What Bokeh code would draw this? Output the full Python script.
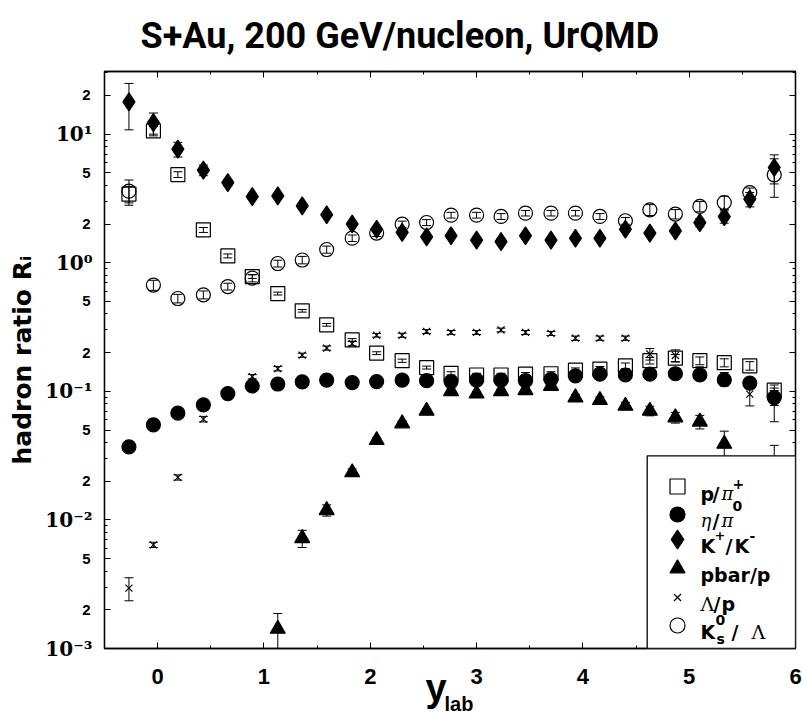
import math
from bokeh.plotting import figure
from bokeh.models import (Range1d, LogAxis, LinearAxis, FixedTicker, Title,
                          Whisker, TeeHead, ColumnDataSource, Label, BoxAnnotation)
from bokeh.embed import file_html
from bokeh.resources import INLINE

NaN = float("nan")

# ---------------- data ----------------
y_lab = [-0.27, -0.04, 0.19, 0.43, 0.66, 0.89, 1.13, 1.36, 1.59, 1.83, 2.06, 2.30, 2.53,
         2.76, 3.00, 3.23, 3.46, 3.70, 3.93, 4.16, 4.40, 4.63, 4.87, 5.10, 5.33, 5.57, 5.80]

p_pip = [3.42, 10.6, 4.85, 1.80, 1.13, 0.78, 0.576, 0.423, 0.329, 0.251, 0.198, 0.173, 0.153,
         0.138, 0.134, 0.134, 0.136, 0.137, 0.146, 0.149, 0.158, 0.173, 0.181, 0.173, 0.167, 0.158, 0.102]
p_pip_err = [0.5, 0.9, 0.25, 0.08, 0.04, 0.025, 0.015, 0.01, 0.008, 0.006, 0.005, 0.005, 0.004,
             0.004, 0.004, 0.004, 0.004, 0.005, 0.006, 0.007, 0.008, 0.01, 0.012, 0.012, 0.012, 0.012, 0.01]

eta_pi0 = [0.037, 0.0549, 0.0677, 0.0785, 0.096, 0.110, 0.114, 0.1185, 0.122, 0.117, 0.119, 0.122, 0.121,
           0.119, 0.122, 0.122, 0.121, 0.124, 0.132, 0.136, 0.134, 0.136, 0.137, 0.134, 0.123, 0.116, 0.0895]
eta_pi0_err = [0.002, 0.002, 0.002, 0.002, 0.003, 0.003, 0.003, 0.003, 0.003, 0.003, 0.003, 0.003, 0.003,
               0.003, 0.003, 0.003, 0.003, 0.003, 0.004, 0.004, 0.004, 0.004, 0.004, 0.004, 0.01, 0.007, 0.012]

kp_km = [17.8, 12.3, 7.64, 5.25, 4.20, 3.27, 3.31, 2.77, 2.36, 2.0, 1.82, 1.72, 1.59,
         1.62, 1.50, 1.46, 1.62, 1.50, 1.55, 1.55, 1.82, 1.70, 1.77, 2.05, 2.28, 3.12, 5.5]
kp_km_err = [7.0, 2.3, 1.0, 0.5, 0.25, 0.15, 0.15, 0.12, 0.1, 0.08, 0.08, 0.07, 0.07,
             0.07, 0.07, 0.07, 0.07, 0.07, 0.07, 0.07, 0.08, 0.08, 0.1, 0.15, 0.25, 0.4, 1.4]

pbar_p = [NaN, NaN, NaN, NaN, NaN, NaN, 0.00142, 0.0072, 0.0119, 0.0234, 0.0417, 0.0562, 0.0705,
          0.100, 0.096, 0.100, 0.102, 0.110, 0.0895, 0.0854, 0.077, 0.0705, 0.0626, 0.058, 0.039, NaN, 0.025]
pbar_p_err = [NaN, NaN, NaN, NaN, NaN, NaN, 0.00045, 0.0011, 0.0012, 0.0015, 0.002, 0.0025, 0.003,
              0.004, 0.004, 0.004, 0.004, 0.005, 0.005, 0.005, 0.005, 0.006, 0.006, 0.007, 0.01, NaN, 0.013]

lambda_p = [0.00295, 0.0064, 0.0214, 0.0608, 0.092, 0.130, 0.150, 0.191, 0.217, 0.235, 0.273, 0.273, 0.292,
            0.287, 0.287, 0.300, 0.287, 0.282, 0.259, 0.259, 0.259, 0.195, 0.190, 0.140, 0.125, 0.095, 0.082]
lambda_p_err = [0.0006, 0.0003, 0.001, 0.003, 0.004, 0.005, 0.006, 0.007, 0.008, 0.009, 0.009, 0.01, 0.01,
                0.01, 0.01, 0.01, 0.01, 0.01, 0.01, 0.01, 0.01, 0.02, 0.02, 0.015, 0.015, 0.018, 0.024]

k0s_lambda = [3.6, 0.67, 0.527, 0.563, 0.653, 0.759, 0.986, 1.05, 1.267, 1.553, 1.70, 1.995, 2.055,
              2.345, 2.345, 2.29, 2.43, 2.43, 2.43, 2.29, 2.12, 2.58, 2.39, 2.74, 2.94, 3.51, 4.83]
k0s_lambda_err = [0.8, 0.06, 0.04, 0.04, 0.04, 0.05, 0.06, 0.07, 0.08, 0.09, 0.1, 0.11, 0.11,
                  0.12, 0.12, 0.12, 0.12, 0.12, 0.12, 0.12, 0.13, 0.25, 0.2, 0.25, 0.35, 0.3, 1.6]

x_ticks = [0, 1, 2, 3, 4, 5, 6]
x_minor_ticks = [-0.5, 0.5, 1.5, 2.5, 3.5, 4.5, 5.5]
y_major_ticks = [0.001, 0.002, 0.005, 0.01, 0.02, 0.05, 0.1, 0.2, 0.5, 1, 2, 5, 10, 20]
y_minor_ticks = [0.003, 0.004, 0.006, 0.007, 0.008, 0.009, 0.03, 0.04, 0.06, 0.07, 0.08, 0.09,
                 0.3, 0.4, 0.6, 0.7, 0.8, 0.9, 3, 4, 6, 7, 8, 9, 30]
y_small_label_vals = [20, 5, 2, 0.5, 0.2, 0.05, 0.02, 0.005, 0.002]
y_small_label_text = ["2", "5", "2", "5", "2", "5", "2", "5", "2"]
y_decade_vals = [10, 1, 0.1, 0.01, 0.001]
y_decade_text = ["10¹", "10⁰", "10⁻¹", "10⁻²", "10⁻³"]

TITLE = "S+Au, 200 GeV/nucleon, UrQMD"
Y_TITLE = "hadron ratio Rᵢ"
X_TITLE_MAIN = "y"
X_TITLE_SUB = "lab"

# ---------------- layout ----------------
X0, X1 = -0.5, 6.0
Y0, Y1 = 1e-3, 30.7
FL, FR, FT, FB = 104, 795, 71, 648          # frame edges in page pixels
W, H = 804, 717

SANS = "Liberation Sans"
BSANS = "DejaVu Sans"
SERIF = "DejaVu Serif"


def px_x(px):
    return X0 + (px - FL) / (FR - FL) * (X1 - X0)


def px_y(py):
    l0, l1 = math.log10(Y0), math.log10(Y1)
    return 10 ** (l0 + (FB - py) / (FB - FT) * (l1 - l0))


p = figure(frame_width=FR - FL, frame_height=FB - FT,
           min_border_left=FL, min_border_right=W - FR, min_border_top=FT, min_border_bottom=H - FB,
           x_range=Range1d(X0, X1), y_range=Range1d(Y0, Y1), y_axis_type="log",
           output_backend="svg", toolbar_location=None)
p.xgrid.visible = False
p.ygrid.visible = False
p.outline_line_color = "black"
p.outline_line_width = 1.3
p.background_fill_color = "white"
p.border_fill_color = "white"

xt = FixedTicker(ticks=x_ticks, minor_ticks=x_minor_ticks)
yt = FixedTicker(ticks=y_major_ticks, minor_ticks=y_minor_ticks)
p.add_layout(LogAxis(ticker=yt), "right")
p.add_layout(LinearAxis(ticker=xt), "above")
p.xaxis.ticker = xt
p.yaxis.ticker = yt

for ax in p.axis:
    ax.axis_line_color = "black"
    ax.axis_line_width = 1.3
    ax.major_tick_in = 6
    ax.major_tick_out = 0
    ax.minor_tick_in = 3
    ax.minor_tick_out = 0
    ax.major_tick_line_color = "black"
    ax.minor_tick_line_color = "black"
    ax.major_label_text_font_size = "0px"
    ax.major_label_standoff = 0

# bottom axis labels
bx = p.below[0]
bx.major_label_text_font_size = "22px"
bx.major_label_text_font = SANS
bx.major_label_text_font_style = "bold"
bx.major_label_text_color = "black"
bx.major_label_standoff = 20

# inner left axis: small "2" / "5" labels
ly = p.left[0]
ov = {v: "" for v in y_major_ticks}
for v, s in zip(y_small_label_vals, y_small_label_text):
    ov[v] = s
ly.major_label_overrides = ov
ly.major_label_text_font = SANS
ly.major_label_text_font_style = "bold"
ly.major_label_text_font_size = "15px"
ly.major_label_text_color = "black"
ly.major_label_standoff = 14

# outer left axis: decade labels + axis title
dec = LogAxis(ticker=FixedTicker(ticks=y_decade_vals, minor_ticks=[]),
              major_label_overrides=dict(zip(y_decade_vals, y_decade_text)),
              axis_line_color=None, major_tick_line_color=None, minor_tick_line_color=None,
              major_tick_in=0, major_tick_out=0, minor_tick_in=0, minor_tick_out=0,
              major_label_standoff=-13, major_label_text_font=SERIF,
              major_label_text_font_style="bold", major_label_text_font_size="20px",
              major_label_text_color="black",
              axis_label=Y_TITLE, axis_label_text_font=BSANS, axis_label_text_font_style="bold",
              axis_label_text_font_size="25px", axis_label_text_color="black",
              axis_label_standoff=5)
p.add_layout(dec, "left")

# titles
p.add_layout(Title(text=TITLE, align="left", offset=36, standoff=26, vertical_align="top",
                   text_font="Roboto", text_font_size="36px", text_font_style="bold",
                   text_color="black"), "above")
p.add_layout(Title(text=X_TITLE_MAIN, align="left", offset=321, standoff=-40,
                   vertical_align="top", text_font=SANS, text_font_size="38px",
                   text_font_style="bold", text_color="black"), "below")
p.add_layout(Title(text=X_TITLE_SUB, align="left", offset=340, standoff=5, vertical_align="top",
                   text_font=SANS, text_font_size="20px", text_font_style="bold",
                   text_color="black"), "below")


def add_series(vals, errs, marker, size, filled, line_width=1.2):
    xs, ys, lo, hi = [], [], [], []
    for x, v, e in zip(y_lab, vals, errs):
        if v == v:
            xs.append(x)
            ys.append(v)
            lo.append(v - e)
            hi.append(v + e)
    src = ColumnDataSource(dict(x=xs, y=ys, lower=lo, upper=hi))
    p.add_layout(Whisker(source=src, base="x", lower="lower", upper="upper", dimension="height",
                         line_color="black", line_width=1,
                         upper_head=TeeHead(size=9, line_color="black", line_width=1),
                         lower_head=TeeHead(size=9, line_color="black", line_width=1)))
    p.scatter("x", "y", source=src, marker=marker, size=size,
              fill_color="black" if filled else None, line_color="black", line_width=line_width)


add_series(p_pip, p_pip_err, "square", 14, False)
add_series(eta_pi0, eta_pi0_err, "circle", 14, True)
add_series(kp_km, kp_km_err, "diamond", 18, True)
add_series(pbar_p, pbar_p_err, "triangle", 15, True)
add_series(lambda_p, lambda_p_err, "x", 10, False, 1.1)
add_series(k0s_lambda, k0s_lambda_err, "circle", 14, False)


def txt(px, py, s, size, font=BSANS, style="bold"):
    p.add_layout(Label(x=px - FL, y=FB - py, x_units="screen", y_units="screen", text=s,
                       text_font=font, text_font_size=f"{size}px", text_font_style=style,
                       text_align="left", text_baseline="alphabetic",
                       text_color="black", level="overlay"))


# legend
p.add_layout(BoxAnnotation(left=px_x(646.7), right=X1, bottom=Y0, top=px_y(455.3),
                           fill_color="white", fill_alpha=1.0, line_color="black",
                           line_width=1.3, line_alpha=1.0))
LX = 677
rows = [486, 514, 539, 568, 597, 625]
leg_style = [("square", 15, False), ("circle", 15, True), ("diamond", 19, True),
             ("triangle", 15, True), ("x", 10, False), ("circle", 15, False)]
for cy, (m, s, f) in zip(rows, leg_style):
    p.scatter([px_x(LX)], [px_y(cy)], marker=m, size=s, fill_color="black" if f else None,
              line_color="black", line_width=1.2, level="overlay")

T0 = 700
r = rows
# p / pi^+
txt(T0, r[0] + 7, "p", 19)
txt(T0 + 12, r[0] + 7, "/", 19)
txt(T0 + 21, r[0] + 7, "π", 18, font=SERIF, style="italic")
txt(T0 + 32, r[0] - 3, "+", 14)
# eta / pi^0
txt(T0, r[1] + 6, "η", 18, font=SERIF, style="italic")
txt(T0 + 12, r[1] + 6, "/", 19)
txt(T0 + 21, r[1] + 6, "π", 18, font=SERIF, style="italic")
txt(T0 + 32, r[1] - 9, "0", 14)
# K+ / K-
txt(T0, r[2] + 6, "K", 19)
txt(T0 + 14, r[2] - 4, "+", 13)
txt(T0 + 25, r[2] + 6, "/", 19)
txt(T0 + 34, r[2] + 6, "K", 19)
txt(T0 + 49, r[2] - 4, "-", 14)
# pbar / p
txt(T0, r[3] + 6, "pbar/p", 19)
# Lambda / p
txt(T0, r[4] + 6, "Λ", 19, font=SERIF, style="normal")
txt(T0 + 13, r[4] + 6, "/", 19)
txt(T0 + 21, r[4] + 6, "p", 19)
# K0s / Lambda
txt(T0, r[5] + 6, "K", 19)
txt(T0 + 15, r[5] - 6, "0", 14)
txt(T0 + 16, r[5] + 13, "s", 14)
txt(T0 + 31, r[5] + 6, "/", 19)
txt(T0 + 51, r[5] + 6, "Λ", 19, font=SERIF, style="normal")

open("out.html", "w").write(file_html(p, INLINE))
